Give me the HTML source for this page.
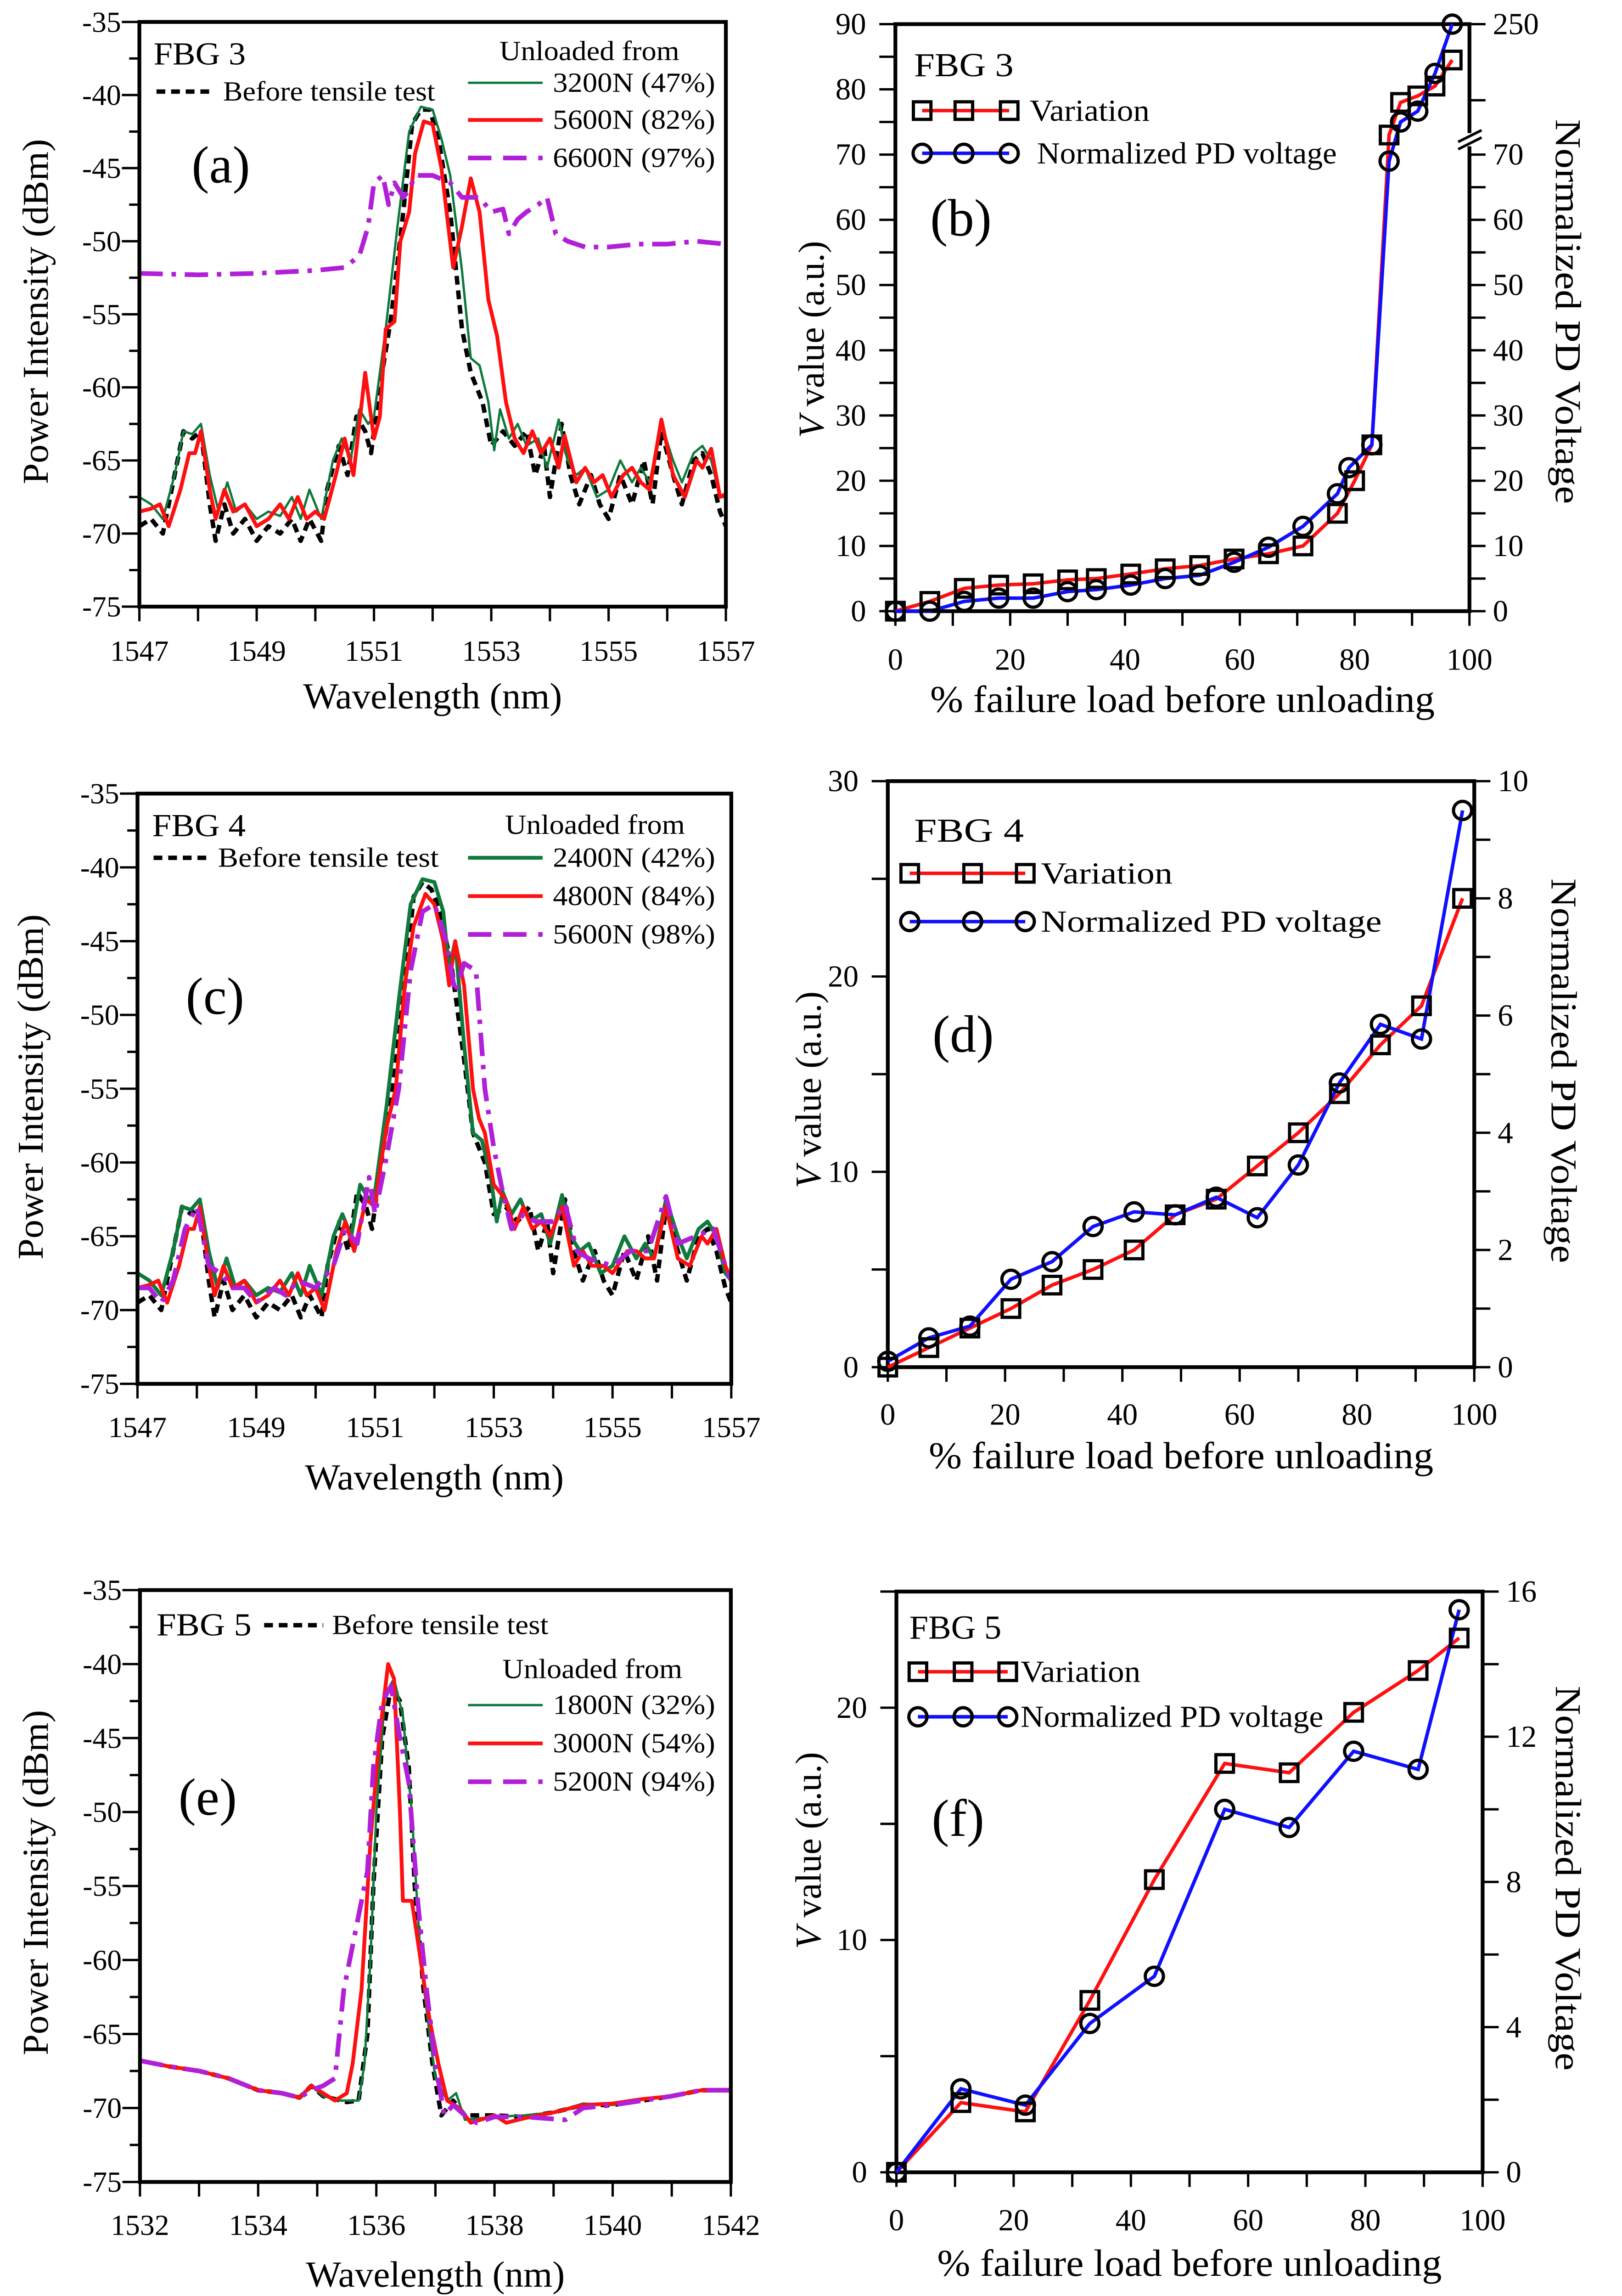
<!DOCTYPE html>
<html><head><meta charset="utf-8"><title>FBG figure</title>
<style>html,body{margin:0;padding:0;background:#fff;}svg{display:block;}text{font-family:"Liberation Serif",serif;fill:#000;}</style>
</head><body>
<svg id="fig" xmlns="http://www.w3.org/2000/svg" width="3533" height="5046" viewBox="0 0 1109 1584" preserveAspectRatio="none"></svg>
<script>
// ===== Spectrum data (wavelength nm, dBm) =====
const a_black=[[1547,-69.5],[1547.2,-69],[1547.4,-70],[1547.6,-66],[1547.75,-63],[1547.9,-63.5],[1548.05,-63],[1548.2,-68],[1548.3,-70.5],[1548.45,-68],[1548.6,-70],[1548.8,-69],[1549,-70.5],[1549.2,-69.5],[1549.4,-70],[1549.6,-69],[1549.75,-70.5],[1549.9,-69],[1550.1,-70.5],[1550.2,-67],[1550.4,-64],[1550.55,-66],[1550.7,-62],[1550.85,-63],[1550.95,-64.5],[1551.1,-60],[1551.3,-55],[1551.5,-48],[1551.65,-42],[1551.8,-41],[1551.95,-41],[1552.1,-43],[1552.3,-48],[1552.5,-56],[1552.65,-59],[1552.85,-61],[1553,-64],[1553.2,-63],[1553.4,-64],[1553.6,-63],[1553.75,-66],[1553.9,-64],[1554,-67.5],[1554.2,-62.5],[1554.35,-66],[1554.5,-68],[1554.7,-66],[1554.85,-68],[1555,-69],[1555.2,-66],[1555.4,-68],[1555.6,-65],[1555.75,-68],[1555.9,-63],[1556.1,-66],[1556.25,-68],[1556.45,-65],[1556.6,-64.5],[1556.75,-66],[1556.9,-68.5],[1557,-69.5]];
const a_green=[[1547,-67.5],[1547.2,-68],[1547.4,-69],[1547.6,-66],[1547.75,-63],[1547.9,-63.2],[1548.05,-62.5],[1548.2,-66],[1548.35,-68.5],[1548.5,-66.5],[1548.65,-68.5],[1548.8,-68],[1549,-69],[1549.2,-68.5],[1549.4,-68.8],[1549.6,-67.5],[1549.75,-69],[1549.9,-67],[1550.1,-69],[1550.3,-65],[1550.45,-63.5],[1550.6,-65],[1550.75,-61.5],[1550.9,-62.5],[1551,-62],[1551.2,-56],[1551.4,-49],[1551.6,-42.5],[1551.8,-40.8],[1552,-41],[1552.15,-43],[1552.3,-45.5],[1552.5,-52],[1552.65,-58],[1552.8,-58.5],[1552.95,-61],[1553.05,-64.3],[1553.15,-61.5],[1553.3,-63.5],[1553.45,-62.5],[1553.6,-64],[1553.8,-63.5],[1553.95,-65.5],[1554.15,-62.2],[1554.3,-65],[1554.45,-66],[1554.6,-65.5],[1554.8,-67.5],[1555,-67],[1555.2,-65],[1555.4,-66.5],[1555.55,-65.5],[1555.7,-66.5],[1555.9,-62.5],[1556.1,-65],[1556.25,-66.5],[1556.45,-64.5],[1556.6,-64],[1556.75,-65],[1556.9,-67.5],[1557,-67.5]];
const a_red=[[1547,-68.5],[1547.2,-68.3],[1547.35,-68],[1547.5,-69.5],[1547.7,-67],[1547.85,-64.5],[1547.95,-64.5],[1548.05,-63],[1548.2,-67],[1548.3,-69],[1548.45,-67],[1548.6,-68.5],[1548.8,-68],[1549,-69.5],[1549.2,-69],[1549.4,-68],[1549.55,-69],[1549.7,-67.5],[1549.85,-69],[1550,-68.5],[1550.15,-69],[1550.35,-66],[1550.5,-63.5],[1550.65,-66],[1550.85,-59],[1551,-63.5],[1551.1,-62],[1551.2,-56],[1551.35,-55.5],[1551.45,-50],[1551.6,-48],[1551.7,-44],[1551.85,-41.8],[1552,-42],[1552.15,-45],[1552.35,-51.8],[1552.5,-49],[1552.65,-45.7],[1552.8,-48],[1552.95,-54],[1553.1,-56.5],[1553.25,-61],[1553.4,-63.5],[1553.55,-64.5],[1553.7,-63],[1553.85,-64.5],[1554,-63.5],[1554.15,-65.5],[1554.25,-63.3],[1554.45,-66.5],[1554.6,-65.5],[1554.75,-66.5],[1554.9,-66],[1555.05,-67.5],[1555.25,-66],[1555.4,-65.5],[1555.55,-66.5],[1555.7,-67],[1555.9,-62.2],[1556.1,-66],[1556.3,-67.5],[1556.5,-65],[1556.6,-65.5],[1556.75,-64.2],[1556.9,-67.5],[1557,-67.3]];
const a_purple=[[1547,-52.2],[1548,-52.3],[1549,-52.2],[1550,-52],[1550.5,-51.8],[1550.75,-51],[1550.9,-49],[1551,-46],[1551.15,-45.5],[1551.25,-47.5],[1551.35,-46],[1551.5,-47],[1551.6,-46.5],[1551.7,-45.5],[1552,-45.5],[1552.3,-46],[1552.5,-47],[1552.8,-47],[1553,-48],[1553.2,-47.8],[1553.3,-49.5],[1553.45,-48.5],[1553.6,-48],[1553.8,-47.5],[1553.95,-47],[1554.1,-49.5],[1554.3,-50],[1554.6,-50.4],[1555,-50.4],[1555.5,-50.2],[1556,-50.2],[1556.5,-50],[1557,-50.2]];
const c_black=[[1547,-69.5],[1547.2,-69],[1547.4,-70],[1547.6,-66],[1547.75,-63],[1547.9,-63.5],[1548.05,-63],[1548.2,-68],[1548.3,-70.5],[1548.45,-68],[1548.6,-70],[1548.8,-69],[1549,-70.5],[1549.2,-69.5],[1549.4,-70],[1549.6,-69],[1549.75,-70.5],[1549.9,-69],[1550.1,-70.5],[1550.2,-67],[1550.4,-64],[1550.55,-66],[1550.7,-62],[1550.85,-63],[1550.95,-64.5],[1551.1,-60],[1551.3,-55],[1551.5,-48],[1551.65,-42],[1551.8,-41],[1551.95,-41.5],[1552.1,-43],[1552.3,-47],[1552.5,-53],[1552.65,-58],[1552.85,-60],[1553,-63.5],[1553.2,-63],[1553.4,-64],[1553.6,-63],[1553.75,-66],[1553.9,-64],[1554,-67.5],[1554.2,-62.5],[1554.35,-66],[1554.5,-68],[1554.7,-66],[1554.85,-68],[1555,-69],[1555.2,-66],[1555.4,-68],[1555.6,-65],[1555.75,-68],[1555.9,-63],[1556.1,-66],[1556.25,-68],[1556.45,-65],[1556.6,-64.5],[1556.75,-66],[1556.9,-68.5],[1557,-69.5]];
const c_green=[[1547,-67.5],[1547.2,-68],[1547.4,-69],[1547.6,-66],[1547.75,-63],[1547.9,-63.2],[1548.05,-62.5],[1548.2,-66],[1548.35,-68.5],[1548.5,-66.5],[1548.65,-68.5],[1548.8,-68],[1549,-69],[1549.2,-68.5],[1549.4,-68.8],[1549.6,-67.5],[1549.75,-69],[1549.9,-67],[1550.1,-69],[1550.3,-65],[1550.45,-63.5],[1550.6,-65],[1550.75,-61.5],[1550.9,-62.5],[1551,-62],[1551.2,-56],[1551.4,-49],[1551.6,-42.5],[1551.8,-40.8],[1552,-41],[1552.15,-43],[1552.25,-47],[1552.35,-45],[1552.5,-52],[1552.65,-58],[1552.8,-58.5],[1552.95,-61],[1553.05,-64],[1553.15,-62],[1553.3,-63.5],[1553.45,-62.5],[1553.6,-64],[1553.8,-63.5],[1553.95,-65.5],[1554.15,-62.2],[1554.3,-65],[1554.45,-66],[1554.6,-65.5],[1554.8,-67.5],[1555,-67],[1555.2,-65],[1555.4,-66.5],[1555.55,-65.5],[1555.7,-66.5],[1555.9,-62.5],[1556.1,-65],[1556.25,-66.5],[1556.45,-64.5],[1556.6,-64],[1556.75,-65],[1556.9,-67.5],[1557,-68]];
const c_red=[[1547,-68.5],[1547.2,-68.3],[1547.35,-68],[1547.5,-69.5],[1547.7,-67],[1547.85,-64.5],[1547.95,-64.5],[1548.05,-63],[1548.2,-67],[1548.3,-69],[1548.45,-67],[1548.6,-68.5],[1548.8,-68],[1549,-69.5],[1549.2,-69],[1549.4,-68],[1549.55,-69],[1549.7,-67.5],[1549.85,-69],[1550,-68.5],[1550.15,-70],[1550.35,-66],[1550.5,-64],[1550.65,-66],[1550.85,-62.5],[1551,-63],[1551.1,-60],[1551.2,-57.5],[1551.35,-55],[1551.5,-48],[1551.65,-44],[1551.85,-41.8],[1552,-42.5],[1552.15,-45],[1552.25,-48],[1552.35,-45],[1552.5,-48],[1552.65,-55],[1552.75,-57],[1552.85,-58],[1553,-61.5],[1553.2,-62.5],[1553.35,-64.5],[1553.5,-63],[1553.65,-64.5],[1553.8,-64],[1553.95,-65],[1554.15,-63],[1554.35,-67],[1554.5,-66],[1554.65,-67],[1554.85,-67],[1555,-67.5],[1555.25,-66],[1555.4,-66],[1555.55,-66.5],[1555.7,-66.5],[1555.9,-63],[1556.1,-66.5],[1556.3,-67],[1556.5,-65],[1556.6,-65.5],[1556.75,-64.5],[1556.9,-67],[1557,-68]];
const c_purple=[[1547,-68.5],[1547.2,-68.5],[1547.4,-69.5],[1547.6,-68],[1547.8,-64.5],[1548,-63],[1548.2,-67],[1548.4,-67.5],[1548.6,-68.5],[1548.8,-68.5],[1549,-69.5],[1549.3,-68.5],[1549.5,-69],[1549.7,-68],[1550,-68.5],[1550.3,-67],[1550.5,-64.5],[1550.7,-65.5],[1550.9,-61],[1551,-63.5],[1551.2,-59.5],[1551.4,-55],[1551.6,-47],[1551.8,-43],[1552,-42.5],[1552.2,-45],[1552.35,-48.5],[1552.5,-46.5],[1552.7,-47],[1552.85,-55],[1553,-59],[1553.15,-62],[1553.3,-64.5],[1553.5,-63.5],[1553.7,-64],[1554,-64],[1554.2,-62.8],[1554.4,-66],[1554.6,-66.5],[1555,-67],[1555.3,-66],[1555.6,-66],[1555.9,-62.3],[1556.1,-65.5],[1556.4,-65],[1556.7,-64.5],[1556.9,-67],[1557,-68]];
const e_black=[[1532,-66.8],[1532.5,-67.2],[1533,-67.5],[1533.5,-68],[1534,-68.8],[1534.4,-69],[1534.7,-69.3],[1534.9,-68.5],[1535.1,-69.2],[1535.5,-69.6],[1535.7,-69.5],[1535.85,-65],[1535.95,-55],[1536.1,-45],[1536.25,-41.5],[1536.4,-42.5],[1536.55,-47],[1536.65,-55],[1536.8,-62],[1536.95,-67],[1537.1,-70.5],[1537.3,-69.5],[1537.5,-70.5],[1538,-70.5],[1538.5,-70.6],[1539,-70.3],[1539.5,-69.8],[1540,-69.8],[1540.5,-69.5],[1541,-69.2],[1541.5,-68.8],[1542,-68.8]];
const e_green=[[1532,-66.8],[1532.5,-67.2],[1533,-67.5],[1533.5,-68],[1534,-68.8],[1534.4,-69],[1534.7,-69.3],[1534.9,-68.5],[1535.1,-69.2],[1535.4,-69.5],[1535.7,-69.5],[1535.8,-67],[1535.9,-60],[1536,-50],[1536.15,-42],[1536.3,-41],[1536.45,-43.5],[1536.6,-50],[1536.75,-60],[1536.9,-65],[1537,-68],[1537.2,-69.5],[1537.35,-69],[1537.5,-70.8],[1538,-70.6],[1538.5,-70.5],[1539,-70.3],[1539.5,-69.7],[1540,-69.8],[1540.5,-69.4],[1541,-69.2],[1541.5,-68.8],[1542,-68.8]];
const e_red=[[1532,-66.8],[1532.5,-67.2],[1533,-67.5],[1533.5,-68],[1534,-68.8],[1534.4,-69],[1534.7,-69.3],[1534.9,-68.5],[1535.1,-69],[1535.3,-69.5],[1535.5,-69],[1535.6,-67],[1535.75,-62],[1535.9,-52],[1536.05,-45],[1536.2,-40],[1536.3,-41],[1536.4,-50],[1536.45,-56],[1536.6,-56],[1536.75,-60],[1536.9,-64],[1537.05,-67],[1537.2,-69.5],[1537.4,-70],[1537.6,-71],[1538,-70.5],[1538.2,-71],[1538.5,-70.7],[1539,-70.3],[1539.5,-69.8],[1540,-69.7],[1540.5,-69.4],[1541,-69.2],[1541.5,-68.8],[1542,-68.8]];
const e_purple=[[1532,-66.8],[1532.5,-67.2],[1533,-67.5],[1533.5,-68],[1534,-68.8],[1534.4,-69],[1534.7,-69.3],[1534.9,-68.8],[1535.1,-68.5],[1535.3,-68],[1535.45,-62],[1535.6,-59],[1535.75,-56],[1535.85,-54],[1535.95,-47],[1536.1,-42.5],[1536.25,-41.5],[1536.4,-45],[1536.55,-48],[1536.7,-56],[1536.85,-62],[1537,-67],[1537.15,-70.5],[1537.3,-69.8],[1537.5,-70.5],[1537.7,-71],[1538,-70.6],[1538.5,-70.6],[1539.2,-70.8],[1539.5,-70],[1540,-69.8],[1540.5,-69.5],[1541,-69.2],[1541.5,-68.8],[1542,-68.8]];

// ===== Scatter data =====
const b_x_var=[0,6,12,18,24,30,35,41,47,53,59,65,71,77,80,83,86,88,91,94,97];
const b_var=[0,1.5,3.5,4,4.2,4.8,5,5.7,6.5,7,8,8.8,10,15,20,25.5,73,78,79,80.5,84.5];
const b_x_pd=[0,6,12,18,24,30,35,41,47,53,59,65,71,77,79,83,86,88,91,94,97];
const b_pd=[0,0,1.5,2,2,3,3.3,4,5,5.5,7.5,9.8,13,18,22,25.5,69,115,130,182,250];
const d_x=[0,7,14,21,28,35,42,49,56,63,70,77,84,91,98];
const d_var=[0,1,2,3,4.2,5,6,7.8,8.6,10.3,12,14,16.5,18.5,24];
const d_pd=[0.1,0.5,0.7,1.5,1.8,2.4,2.65,2.6,2.9,2.55,3.45,4.85,5.85,5.6,9.5];
const f_x=[0,11,22,33,44,56,67,78,89,96];
const f_var=[0,3,2.6,7.4,12.6,17.6,17.2,19.8,21.6,23];
const f_pd=[0,2.3,1.85,4.1,5.4,10,9.5,11.6,11.1,15.5];

const NS='http://www.w3.org/2000/svg';
const svg=document.getElementById('fig');
function mk(tag,attrs,parent){const e=document.createElementNS(NS,tag);for(const k in attrs)e.setAttribute(k,attrs[k]);(parent||svg).appendChild(e);return e;}
function txt(s,x,y,size,anchor,name,opts){
  opts=opts||{};
  const t=mk('text',{x:x,y:y,'font-size':size,'text-anchor':anchor,'dominant-baseline':'central','font-family':'Liberation Serif, serif'});
  if(opts.len){t.setAttribute('textLength',opts.len);t.setAttribute('lengthAdjust','spacingAndGlyphs');}
  if(opts.rot!==undefined){t.setAttribute('transform','rotate('+opts.rot+' '+x+' '+y+')');}
  t.textContent=s;
  
  
  return t;
}
function line(x1,y1,x2,y2,w,name,extra){
  const l=mk('line',Object.assign({x1:x1,y1:y1,x2:x2,y2:y2,stroke:'#000','stroke-width':w},extra||{}));
  
  
  return l;
}
const STY={
  black:{stroke:'#000','stroke-width':3,'stroke-dasharray':'6 4'},
  green:{stroke:'#0f7a3c','stroke-width':1.6},
  greenThick:{stroke:'#0f7a3c','stroke-width':2.6},
  red:{stroke:'#ff1010','stroke-width':2.6},
  purple:{stroke:'#b21fd8','stroke-width':3.2,'stroke-dasharray':'16 6 3 6'},
  purpleDash:{stroke:'#b21fd8','stroke-width':3.2,'stroke-dasharray':'16 8'}
};

function box(b,name){
  const r=mk('rect',{x:b.x0,y:b.y0,width:b.x1-b.x0,height:b.y1-b.y0,fill:'none',stroke:'#000','stroke-width':2.6});
  
  
}

// ---------- spectrum panels ----------
function spectrum(p){
  const b=p.b;
  const sx=v=>b.x0+(v-p.xmin)/(p.xmax-p.xmin)*(b.x1-b.x0);
  const sy=v=>b.y0+(-35-v)/40*(b.y1-b.y0);
  for(let v=-75;v<=-35;v+=2.5){
    const major=(v%5===0);
    line(b.x0-(major?12:7),sy(v),b.x0,sy(v),1.6,'y-tick');
    if(major) txt(String(v),b.x0-12.5,sy(v),20,'end','y-tick-label');
  }
  for(let v=p.xmin;v<=p.xmax;v+=1){
    line(sx(v),b.y1,sx(v),b.y1+10,1.6,'x-tick');
    if((v-p.xmin)%2===0) txt(String(v),sx(v),p.tickY,20,'middle','x-tick-label');
  }
  txt('Power Intensity (dBm)',p.yl[0],p.yl[1],25,'middle','y-axis-title',{rot:-90,len:236});
  txt('Wavelength (nm)',(b.x0+b.x1)/2,p.xlY,25,'middle','x-axis-title',{len:177});
  const cp=mk('clipPath',{id:p.id+'-clip'});
  mk('rect',{x:b.x0,y:b.y0,width:b.x1-b.x0,height:b.y1-b.y0},cp);
  const g=mk('g',{'clip-path':'url(#'+p.id+'-clip)'});
  
  
  p.series.forEach(s=>{
    const d=s.data.map((pt,i)=>(i?'L':'M')+sx(pt[0]).toFixed(2)+' '+sy(pt[1]).toFixed(2)).join(' ');
    const path=mk('path',Object.assign({d:d,fill:'none','stroke-linejoin':'round'},s.style),g);
    
    
  });
  box(b,p.id+'-frame');
  const L=p.leg;
  txt(L.fbg,L.fbgX,L.fbgY,22,'start','legend-title',{len:L.fbgLen});
  line(L.bx0,L.by,L.bx1,L.by,3,'legend-before-line',{'stroke-dasharray':'6 4'});
  txt('Before tensile test',L.btx,L.by,19,'start','legend-before-label',{len:L.btLen});
  txt('Unloaded from',L.ucx,L.uy,19,'middle','legend-unloaded-heading',{len:123});
  L.items.forEach((it,i)=>{
    const l=mk('line',Object.assign({x1:320,x2:371,y1:L.iy[i],y2:L.iy[i]},it.style));
    
    
    txt(it.label,378,L.iy[i],19,'start','legend-label-'+it.key,{len:111});
  });
  txt(p.tag,L.tagX,L.tagY,36,'middle','panel-label');
}

spectrum({id:'panel-a',b:{x0:95.3,x1:496.3,y0:15,y1:414.7},xmin:1547,xmax:1557,tickY:445,xlY:476,yl:[24.5,213],tag:'(a)',
  series:[{name:'series-before-test',data:a_black,style:STY.black},{name:'series-3200N',data:a_green,style:STY.green},{name:'series-5600N',data:a_red,style:STY.red},{name:'series-6600N',data:a_purple,style:STY.purple}],
  leg:{fbg:'FBG 3',fbgX:105,fbgY:37,fbgLen:63,bx0:107,bx1:145,by:62.6,btx:152.5,btLen:145,ucx:403,uy:35,iy:[56.6,82,108],tagX:151,tagY:112.7,
    items:[{key:'3200N',label:'3200N (47%)',style:STY.green},{key:'5600N',label:'5600N (82%)',style:STY.red},{key:'6600N',label:'6600N (97%)',style:STY.purpleDash}]}});

spectrum({id:'panel-c',b:{x0:94,x1:500,y0:542.5,y1:946},xmin:1547,xmax:1557,tickY:975.7,xlY:1010,yl:[21,743],tag:'(c)',
  series:[{name:'series-before-test',data:c_black,style:STY.black},{name:'series-2400N',data:c_green,style:STY.greenThick},{name:'series-4800N',data:c_red,style:STY.red},{name:'series-5600N',data:c_purple,style:STY.purple}],
  leg:{fbg:'FBG 4',fbgX:104,fbgY:564.5,fbgLen:64,bx0:105,bx1:144,by:586.4,btx:149,btLen:151,ucx:406.8,uy:564,iy:[586.4,612.6,638.8],tagX:147,tagY:681,
    items:[{key:'2400N',label:'2400N (42%)',style:STY.greenThick},{key:'4800N',label:'4800N (84%)',style:STY.red},{key:'5600N',label:'5600N (98%)',style:STY.purpleDash}]}});

spectrum({id:'panel-e',b:{x0:95.7,x1:499.7,y0:1087,y1:1491.6},xmin:1532,xmax:1542,tickY:1521,xlY:1555,yl:[24.5,1287],tag:'(e)',
  series:[{name:'series-before-test',data:e_black,style:STY.black},{name:'series-1800N',data:e_green,style:STY.green},{name:'series-3000N',data:e_red,style:STY.red},{name:'series-5200N',data:e_purple,style:STY.purple}],
  leg:{fbg:'FBG 5',fbgX:107,fbgY:1111,fbgLen:65,bx0:180.6,bx1:221,by:1111,btx:227,btLen:148,ucx:405,uy:1141,iy:[1165.6,1191.8,1218],tagX:142,tagY:1228.5,
    items:[{key:'1800N',label:'1800N (32%)',style:STY.green},{key:'3000N',label:'3000N (54%)',style:STY.red},{key:'5200N',label:'5200N (94%)',style:STY.purpleDash}]}});

// ---------- V value panels ----------
function square(x,y,name){
  const r=mk('rect',{x:x-6,y:y-6,width:12,height:12,fill:'none',stroke:'#000','stroke-width':2.2});
  
  
}
function circle(x,y,name){
  const c=mk('circle',{cx:x,cy:y,r:6.2,fill:'none',stroke:'#000','stroke-width':2.2});
  
  
}
function vpanel(p){
  const b=p.b;
  const sx=v=>b.x0+v/100*(b.x1-b.x0);
  const syL=v=>b.y1-v/p.lmax*(b.y1-b.y0);
  const syR=v=>syL(p.rToL(v));
  p.lTicks.forEach(t=>{line(b.x0-11,syL(t.v),b.x0,syL(t.v),1.6,'left-y-tick');if(t.lab)txt(String(t.v),b.x0-20,syL(t.v),21,'end','left-y-tick-label');});
  p.rTicks.forEach(t=>{line(b.x1,syR(t.v),b.x1+11,syR(t.v),1.6,'right-y-tick');if(t.lab)txt(String(t.v),b.x1+16,syR(t.v),21,'start','right-y-tick-label');});
  for(let v=0;v<=100;v+=10){line(sx(v),b.y1,sx(v),b.y1+10,1.6,'x-tick');if(v%20===0)txt(String(v),sx(v),p.tickY,21,'middle','x-tick-label');}
  box(b,p.id+'-frame');
  const vt=mk('text',{x:p.yl[0],y:p.yl[1],'font-size':25,'text-anchor':'middle','dominant-baseline':'central','font-family':'Liberation Serif, serif',transform:'rotate(-90 '+p.yl[0]+' '+p.yl[1]+')'});
  
  
  const ts=mk('tspan',{'font-style':'italic'},vt);ts.textContent='V';
  const ts2=mk('tspan',{},vt);ts2.textContent=' value (a.u.)';
  txt('Normalized PD Voltage',p.yr[0],p.yr[1],25,'middle','right-y-axis-title',{rot:90,len:263});
  txt('% failure load before unloading',(b.x0+b.x1)/2,p.xlY,26,'middle','x-axis-title',{len:345});
  const dv=p.xv.map((x,i)=>(i?'L':'M')+sx(x).toFixed(2)+' '+syL(p.vv[i]).toFixed(2)).join(' ');
  const pv=mk('path',{d:dv,fill:'none',stroke:'#ff1010','stroke-width':2.4});
  
  
  const dp=p.xp.map((x,i)=>(i?'L':'M')+sx(x).toFixed(2)+' '+syR(p.pv[i]).toFixed(2)).join(' ');
  const pp=mk('path',{d:dp,fill:'none',stroke:'#1010ff','stroke-width':2.4});
  
  
  p.xv.forEach((x,i)=>square(sx(x),syL(p.vv[i]),'variation-marker'));
  p.xp.forEach((x,i)=>circle(sx(x),syR(p.pv[i]),'pd-voltage-marker'));
  const L=p.leg;
  txt(L.fbg,L.fbgX,L.fbgY,23,'start','legend-title',{len:L.fbgLen});
  line(L.mx[0],L.sy,L.mx[2],L.sy,2.4,'legend-variation-line',{stroke:'#ff1010'});
  L.mx.forEach(x=>square(x,L.sy,'legend-variation-marker'));
  txt('Variation',L.tx1,L.sy,21,'start','legend-variation-label',{len:L.vLen});
  line(L.mx[0],L.cy,L.mx[2],L.cy,2.4,'legend-pd-line',{stroke:'#1010ff'});
  L.mx.forEach(x=>circle(x,L.cy,'legend-pd-marker'));
  txt('Normalized PD voltage',L.tx2,L.cy,21,'start','legend-pd-label',{len:L.nLen});
  txt(p.tag,L.tagX,L.tagY,36,'middle','panel-label');
}
function ticks(from,to,step,labStep){const a=[];for(let v=from;v<=to+1e-9;v+=step)a.push({v:+v.toFixed(3),lab:Math.abs(v/labStep-Math.round(v/labStep))<1e-6});return a;}

const bR=ticks(0,70,5,10);bR.push({v:250,lab:true});bR.push({v:145,lab:false});
vpanel({id:'panel-b',b:{x0:612.2,x1:1004.7,y0:16.5,y1:417.8},lmax:90,rToL:v=>v<=70?v:70+(v-70)/9,
  lTicks:ticks(0,90,5,10),rTicks:bR,tickY:451,xlY:478,yl:[555,232],yr:[1072,213],tag:'(b)',
  xv:b_x_var,vv:b_var,xp:b_x_pd,pv:b_pd,
  leg:{fbg:'FBG 3',fbgX:625,fbgY:44.4,fbgLen:68,mx:[630.5,659,690],sy:75.6,cy:104.8,tx1:704,tx2:709,vLen:82,nLen:205,tagX:657,tagY:149}});
vpanel({id:'panel-d',b:{x0:607,x1:1008,y0:534,y1:934.6},lmax:30,rToL:v=>v*3,
  lTicks:ticks(0,30,5,10),rTicks:ticks(0,10,1,2),tickY:967,xlY:995,yl:[553,745],yr:[1069,732],tag:'(d)',
  xv:d_x,vv:d_var,xp:d_x,pv:d_pd,
  leg:{fbg:'FBG 4',fbgX:625,fbgY:567.7,fbgLen:75,mx:[622,665,701],sy:597,cy:630,tx1:711.7,tx2:711.7,vLen:90,nLen:233,tagX:658.5,tagY:707}});
vpanel({id:'panel-f',b:{x0:612.9,x1:1013.7,y0:1088,y1:1485},lmax:25,rToL:v=>v*25/16,
  lTicks:ticks(0,25,5,10),rTicks:ticks(0,16,2,4),tickY:1517.7,xlY:1547,yl:[553,1265],yr:[1072,1284],tag:'(f)',
  xv:f_x,vv:f_var,xp:f_x,pv:f_pd,
  leg:{fbg:'FBG 5',fbgX:621.7,fbgY:1112.5,fbgLen:63,mx:[627.6,658.5,689],sy:1142.8,cy:1173.6,tx1:697.8,tx2:697.8,vLen:82,nLen:207,tagX:655,tagY:1243}});

// axis break marks on panel (b) right axis (just above the 70 level)
const brkBg=mk('rect',{x:1001,y:91,width:7,height:9,fill:'#fff'});


const brk=mk('path',{d:'M 997 102 L 1013 94 M 997 97 L 1013 89',stroke:'#000','stroke-width':1.8,fill:'none'});


</script>
</body></html>
